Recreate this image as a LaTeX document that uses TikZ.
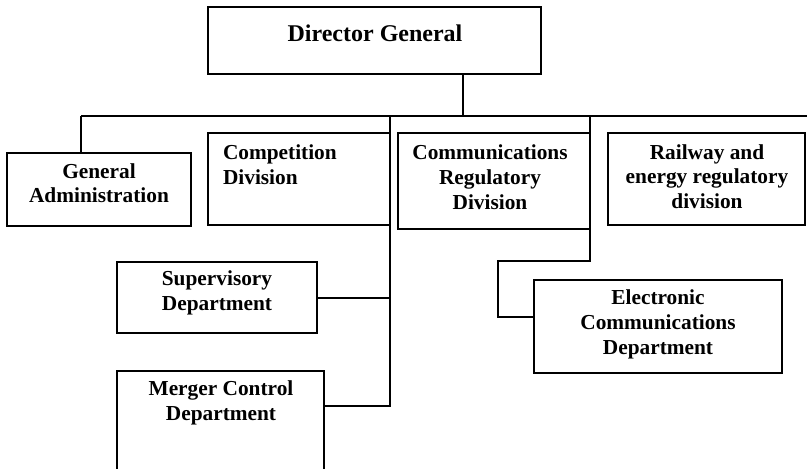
\documentclass[tikz,border=0pt]{standalone}
\usepackage{fontspec}
\setmainfont{Liberation Serif}
\begin{document}
\begin{tikzpicture}[x=0.75pt,y=-0.75pt,
  box/.style={draw, line width=1.4pt, rectangle, inner sep=0pt, outer sep=0pt, anchor=north west},
  lbl/.style={inner sep=0pt, outer sep=0pt, anchor=north, align=center, font=\bfseries\fontsize{16}{18.5}\selectfont, execute at begin node=\strut},
  wire/.style={line width=1.4pt}]
\clip (0,0) rectangle (807,468);
\fill[white] (0,0) rectangle (807,468);
% boxes
\node[box, minimum width=249.75pt, minimum height=50.25pt] (dg) at (208,7) {};
\node[box, minimum width=138pt, minimum height=54.75pt] (ga) at (7,153) {};
\node[box, minimum width=136.5pt, minimum height=69pt] (cd) at (208,133) {};
\node[box, minimum width=144pt, minimum height=72pt] (cr) at (398,133) {};
\node[box, minimum width=147.75pt, minimum height=69pt] (re) at (608,133) {};
\node[box, minimum width=150pt, minimum height=53.25pt] (sv) at (117,262) {};
\node[box, minimum width=155.25pt, minimum height=82.5pt] (mc) at (117,371) {};
\node[box, minimum width=186pt, minimum height=69.75pt] (ec) at (534,280) {};
% labels
\node[lbl, font=\bfseries\fontsize{18}{21.6}\selectfont] (tdg) at (375,21.5) {Director General};
\node[lbl] (tga) at (99,163.5) {General\\Administration};
\node[lbl, anchor=north west, align=left] (tcd) at (223,145) {Competition\\Division};
\node[lbl] (tcr) at (490,145) {Communications\\Regulatory\\Division};
\node[lbl] (tre) at (707,144.5) {Railway and\\energy regulatory\\division};
\node[lbl] (tsv) at (217,271) {Supervisory\\Department};
\node[lbl] (tmc) at (221,381) {Merger Control\\Department};
\node[lbl] (tec) at (658,290) {Electronic\\Communications\\Department};
% junction coordinates
\coordinate (drop) at (463,116);
\coordinate (busL) at (81,116);
\coordinate (busR) at (810,116);
\coordinate (spineC) at (390,116);
\coordinate (spineR) at (590,116);
\coordinate (svJ) at (390,298);
\coordinate (mcJ) at (390,406);
\coordinate (elbow) at (498,261);
\coordinate (ecJ) at (534,317);
% connectors
\draw[wire] (drop |- dg.south) -- (drop);
\draw[wire] (busL) -- (busR);
\draw[wire] (busL) -- (busL |- ga.north);
\draw[wire] (spineC) -- (mcJ) -- (mcJ -| mc.east);
\draw[wire] (svJ -| sv.east) -- (svJ);
\draw[wire] (spineR) |- (elbow) |- (ecJ);
\end{tikzpicture}
\end{document}
